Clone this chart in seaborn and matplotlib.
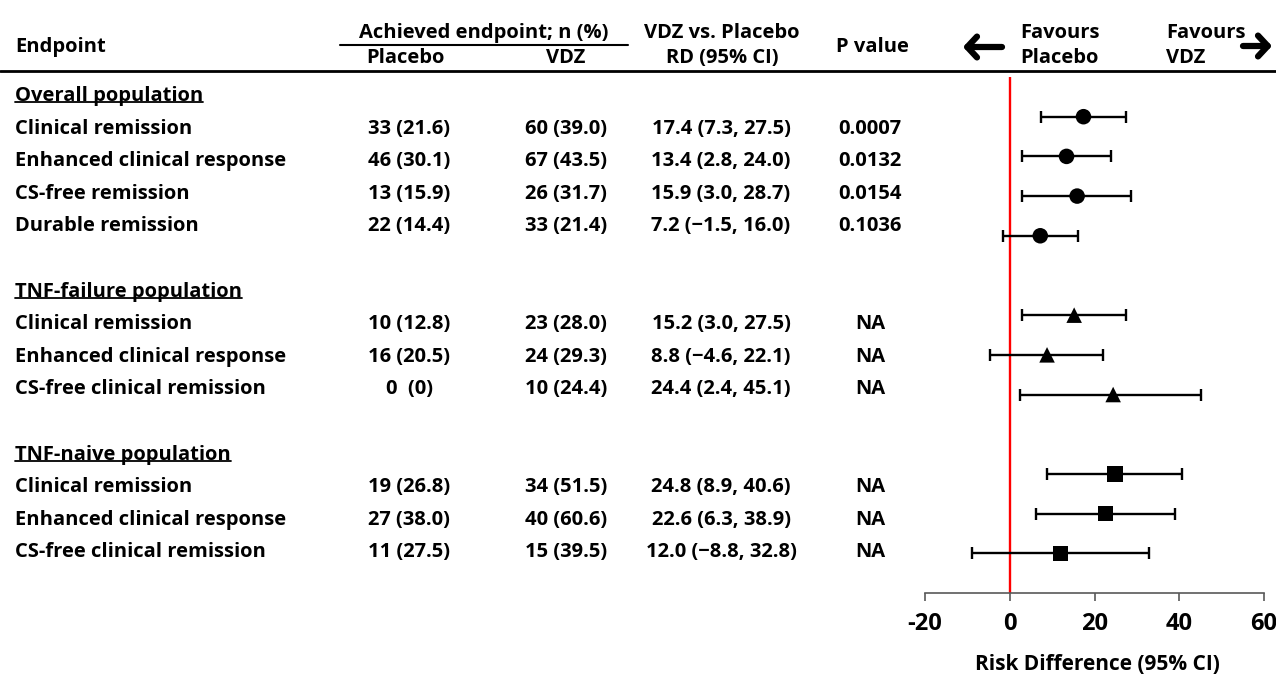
import numpy as np
import pandas as pd
import matplotlib
matplotlib.use("Agg")
import matplotlib.pyplot as plt
import seaborn as sns

sns.set_style("white")
plt.rcParams['font.family'] = ['Open Sans', 'DejaVu Sans']
plt.rcParams['font.weight'] = 'bold'
plt.rcParams['text.color'] = 'black'
plt.rcParams['xtick.color'] = 'black'

# table / forest data
groups = ["Overall population", "TNF-failure population", "TNF-naive population"]
group_idx = [0, 0, 0, 0, 1, 1, 1, 2, 2, 2]
endpoints = ["Clinical remission", "Enhanced clinical response", "CS-free remission", "Durable remission",
             "Clinical remission", "Enhanced clinical response", "CS-free clinical remission",
             "Clinical remission", "Enhanced clinical response", "CS-free clinical remission"]
placebo = ["33 (21.6)", "46 (30.1)", "13 (15.9)", "22 (14.4)",
           "10 (12.8)", "16 (20.5)", "0  (0)",
           "19 (26.8)", "27 (38.0)", "11 (27.5)"]
vdz = ["60 (39.0)", "67 (43.5)", "26 (31.7)", "33 (21.4)",
       "23 (28.0)", "24 (29.3)", "10 (24.4)",
       "34 (51.5)", "40 (60.6)", "15 (39.5)"]
rd = [17.4, 13.4, 15.9, 7.2, 15.2, 8.8, 24.4, 24.8, 22.6, 12.0]
ci_low = [7.3, 2.8, 3.0, -1.5, 3.0, -4.6, 2.4, 8.9, 6.3, -8.8]
ci_high = [27.5, 24.0, 28.7, 16.0, 27.5, 22.1, 45.1, 40.6, 38.9, 32.8]
p_values = ["0.0007", "0.0132", "0.0154", "0.1036", "NA", "NA", "NA", "NA", "NA", "NA"]
x_ticks = [-20, 0, 20, 40, 60]

df = pd.DataFrame({"endpoint": endpoints, "rd": rd, "lo": ci_low, "hi": ci_high,
                   "group": [groups[g] for g in group_idx], "g": group_idx})
df["slot"] = df.index + df["g"]            # forest row (one blank between groups)
df["line"] = df.index + 1 + 2 * df["g"]    # table line (heading + blank per group)

W, H = 1276, 675
fig = plt.figure(figsize=(W / 100, H / 100), dpi=100)

# background axes in pixel coords for the table
bg = fig.add_axes([0, 0, 1, 1])
bg.set_xlim(0, W)
bg.set_ylim(H, 0)
bg.axis("off")

fs = 14.5
row_y0, row_h = 96, 32.6


def line_y(i):
    return row_y0 + row_h * i


# header
bg.text(15, 47, "Endpoint", fontsize=fs, ha="left", va="center")
bg.text(484, 33, "Achieved endpoint; n (%)", fontsize=fs, ha="center", va="center")
bg.plot([340, 628], [45, 45], color="black", lw=1.5)
bg.text(405, 58, "Placebo", fontsize=fs, ha="center", va="center")
bg.text(566, 58, "VDZ", fontsize=fs, ha="center", va="center")
bg.text(722, 33, "VDZ vs. Placebo", fontsize=fs, ha="center", va="center")
bg.text(722, 58, "RD (95% CI)", fontsize=fs, ha="center", va="center")
bg.text(872, 47, "P value", fontsize=fs, ha="center", va="center")
bg.text(1020, 33, "Favours", fontsize=fs, ha="left", va="center")
bg.text(1020, 58, "Placebo", fontsize=fs, ha="left", va="center")
bg.text(1166, 33, "Favours", fontsize=fs, ha="left", va="center")
bg.text(1166, 58, "VDZ", fontsize=fs, ha="left", va="center")
bg.plot([0, W], [71, 71], color="black", lw=2)
arrow = dict(arrowstyle="->,head_length=0.7,head_width=0.75", lw=4.5, color="black",
             shrinkA=0, shrinkB=0, capstyle="round", joinstyle="round")
bg.annotate("", xy=(963, 47), xytext=(1002, 47), arrowprops=arrow)
bg.annotate("", xy=(1272, 46), xytext=(1243, 46), arrowprops=arrow)

# group headings (underlined)
headings = []
for g, name in enumerate(groups):
    first = df.index[df["g"] == g][0]
    t = bg.text(15, line_y(first + 2 * g), name, fontsize=fs, ha="left", va="center")
    headings.append(t)

# table rows
for _, r in df.iterrows():
    y = line_y(r["line"])
    rd_txt = f"{r['rd']:.1f} ({r['lo']:.1f}, {r['hi']:.1f})".replace("-", "\u2212")
    bg.text(15, y, r["endpoint"], fontsize=fs, ha="left", va="center")
    bg.text(409, y, placebo[_], fontsize=fs, ha="center", va="center")
    bg.text(566, y, vdz[_], fontsize=fs, ha="center", va="center")
    bg.text(721, y, rd_txt, fontsize=fs, ha="center", va="center")
    bg.text(870, y, p_values[_], fontsize=fs, ha="center", va="center")

bg.text(1097, 665, "Risk Difference (95% CI)", fontsize=15, ha="center", va="center")

# forest plot axes
x_left, x_right, y_top, y_bot = 925, 1264, 77, 593
ax = fig.add_axes([x_left / W, (H - y_bot) / H, (x_right - x_left) / W, (y_bot - y_top) / H])
ax.set_facecolor("none")
ax.axvline(0, color="red", lw=1.7, zorder=1)
ax.errorbar(df["rd"], df["slot"], xerr=[df["rd"] - df["lo"], df["hi"] - df["rd"]],
            fmt="none", ecolor="black", elinewidth=1.7, capsize=4.3, capthick=1.7, zorder=2)
sns.scatterplot(data=df, x="rd", y="slot", style="group",
                markers={groups[0]: "o", groups[1]: "^", groups[2]: "s"},
                color="black", s=125, linewidth=0, legend=False, ax=ax, zorder=3)
ax.set_xlim(-20, 60)
ax.set_ylim(12.0, -1.0)
ax.set_xticks(x_ticks)
ax.set_xticklabels([str(v) for v in x_ticks], fontsize=17, fontweight="bold")
ax.set_yticks([])
ax.set_xlabel("")
ax.set_ylabel("")
for s in ["top", "left", "right"]:
    ax.spines[s].set_visible(False)
ax.spines["bottom"].set_color("#595959")
ax.spines["bottom"].set_linewidth(1.2)
ax.tick_params(axis="x", direction="out", length=6, width=1.2, color="#595959",
               labelcolor="black", pad=8, bottom=True)

# underline headings
fig.canvas.draw()
renderer = fig.canvas.get_renderer()
inv = bg.transData.inverted()
for t in headings:
    bb = t.get_window_extent(renderer)
    (x0, y0), (x1, _y) = inv.transform([[bb.x0, bb.y0], [bb.x1, bb.y1]])
    bg.plot([x0, x1], [y0 - 4, y0 - 4], color="black", lw=1.3)

fig.savefig("out.png", dpi=100)
